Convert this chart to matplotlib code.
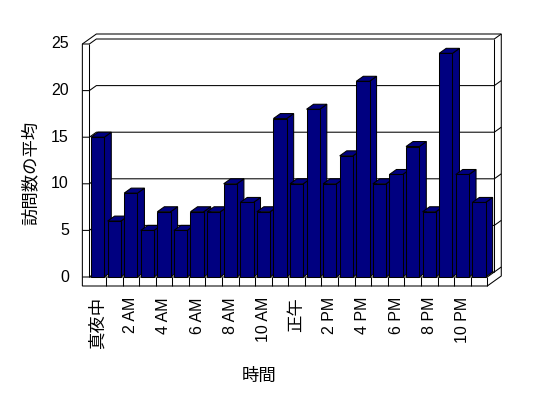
import matplotlib
matplotlib.use('Agg')
import matplotlib.pyplot as plt
from matplotlib.patches import Polygon

plt.rcParams['font.family'] = ['Liberation Sans', 'Noto Sans CJK JP', 'DejaVu Sans']

# data
hours = list(range(24))
visits = [15, 6, 9, 5, 7, 5, 7, 7, 10, 8, 7, 17,
          10, 18, 10, 13, 21, 10, 11, 14, 7, 24, 11, 8]
tick_labels = ['真夜中', '2 AM', '4 AM', '6 AM', '8 AM', '10 AM',
               '正午', '2 PM', '4 PM', '6 PM', '8 PM', '10 PM']
y_ticks = [0, 5, 10, 15, 20, 25]

W, H = 548, 398
# pixel anchors of the front plane: category 0 centre, category pitch,
# value 0 baseline, pixels per unit
X0, PITCH = 97.65, 16.58
Y0, PPU = 277.0, 9.32

fig = plt.figure(figsize=(W / 100, H / 100), dpi=100)
ax_l, ax_r, ax_t, ax_b = 60, 520, 20, 300
ax = fig.add_axes([ax_l / W, 1 - ax_b / H, (ax_r - ax_l) / W, (ax_b - ax_t) / H])
ax.set_xlim((ax_l - X0) / PITCH, (ax_r - X0) / PITCH)
ax.set_ylim((Y0 - ax_b) / PPU, (Y0 - ax_t) / PPU)
ax.axis('off')

# 3D depth step (in data units) and floor thickness
DX = 7 / PITCH
DY = 5 / PPU
T = 9 / PPU
xL = -0.5
xR = len(hours) - 0.5
vmax = y_ticks[-1]
lw = 0.75

# outer outline of walls + floor
outline = [(xL - DX, -T), (xR, -T), (xR + 2 * DX, -T + 2 * DY),
           (xR + 2 * DX, vmax + 2 * DY), (xL + DX, vmax + 2 * DY),
           (xL - DX, vmax)]
ax.add_patch(Polygon(outline, closed=True, fc='white', ec='black', lw=lw, zorder=1))

def seg(pts, z=1.5):
    xs, ys = zip(*pts)
    ax.plot(xs, ys, color='black', lw=lw, zorder=z, solid_capstyle='butt')

# gridlines across left wall, back wall and its thickness
for v in y_ticks:
    seg([(xL - DX, v), (xL, v), (xL + DX, v + DY), (xR + DX, v + DY),
         (xR + 2 * DX, v + 2 * DY)])

# left wall inner edge, back wall right edge
seg([(xL, 0), (xL, vmax)])
seg([(xR + DX, DY), (xR + DX, vmax + DY)])

# floor slab
seg([(xL, 0), (xR, 0), (xR + DX, DY)])
seg([(xR, 0), (xR, -T)])
for k in range(1, len(hours)):
    seg([(xL + k, 0), (xL + k, -T)])

# bars
bw = 0.8
navy = '#000080'
for i, v in zip(hours, visits):
    x0, x1 = i - bw / 2, i + bw / 2
    side = [(x1, 0), (x1 + DX, DY), (x1 + DX, v + DY), (x1, v)]
    top = [(x0, v), (x1, v), (x1 + DX, v + DY), (x0 + DX, v + DY)]
    front = [(x0, 0), (x1, 0), (x1, v), (x0, v)]
    for poly in (side, top, front):
        ax.add_patch(Polygon(poly, closed=True, fc=navy, ec='black', lw=lw, zorder=2))

# tick labels
for v in y_ticks:
    ax.text((69 - X0) / PITCH, v, str(v), ha='right', va='center', fontsize=11.5)
for i, lab in zip(hours[::2], tick_labels):
    fs = 11.5 if lab.isascii() else 12.5
    ax.text(i, (Y0 - 297) / PPU, lab, rotation=90, ha='center', va='top',
            fontsize=fs)

fig.text(30.5 / W, 1 - 173 / H, '訪問数の平均', rotation=90, ha='center',
         va='center', fontsize=12.5)
fig.text(259 / W, 1 - 376 / H, '時間', ha='center', va='center', fontsize=12.5)

fig.savefig('out.png', dpi=100, facecolor='white')
